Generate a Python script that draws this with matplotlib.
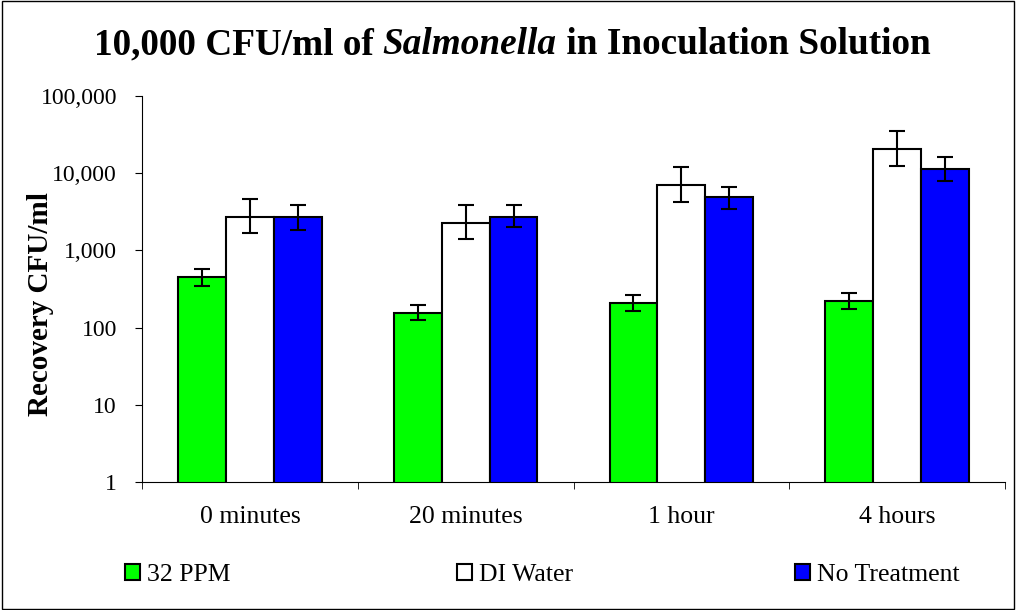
import matplotlib.pyplot as plt
from matplotlib.patches import Rectangle
from matplotlib.ticker import FuncFormatter, FixedLocator, NullLocator
import numpy as np

plt.rcParams['font.family'] = ['Liberation Serif', 'DejaVu Serif']

categories = ['0 minutes', '20 minutes', '1 hour', '4 hours']
series = ['32 PPM', 'DI Water', 'No Treatment']
colors = ['#00ff00', '#ffffff', '#0000ff']

# bar heights (CFU/ml)
ppm32 = [449, 153, 206, 219]
di_water = [2685, 2245, 6970, 20400]
no_treat = [2685, 2685, 4875, 11230]

# error bar ends (low, high)
ppm32_lo = [349, 127, 163, 173]
ppm32_hi = [574, 194, 264, 281]
di_lo = [1662, 1393, 4275, 12500]
di_hi = [4630, 3840, 12030, 34900]
nt_lo = [1854, 1990, 3405, 7850]
nt_hi = [3840, 3840, 6560, 16220]

values = [ppm32, di_water, no_treat]
lows = [ppm32_lo, di_lo, nt_lo]
highs = [ppm32_hi, di_hi, nt_hi]

W, H = 1016, 610
fig = plt.figure(figsize=(W / 100, H / 100), dpi=100)
ax = fig.add_axes([142 / W, 1 - 482 / H, (1005 - 142) / W, (482 - 96) / H])

x = np.arange(len(categories))
w = 0.222
handles = []
for i in range(3):
    v = np.array(values[i])
    yerr = [v - np.array(lows[i]), np.array(highs[i]) - v]
    b = ax.bar(x + (i - 1) * w, v, w, color=colors[i], edgecolor='black', linewidth=1.5,
               label=series[i], zorder=2)
    handles.append(b)
    ax.errorbar(x + (i - 1) * w, v, yerr=yerr, fmt='none', ecolor='black',
                elinewidth=1.5, capsize=5.5, capthick=1.5, zorder=3)

ax.set_yscale('log')
ax.set_ylim(1, 100000)
ax.set_xlim(-0.5, 3.5)
ax.yaxis.set_major_locator(FixedLocator([1, 10, 100, 1000, 10000, 100000]))
ax.yaxis.set_minor_locator(NullLocator())
ax.yaxis.set_major_formatter(FuncFormatter(lambda v, p: '{:,.0f}'.format(v)))
ax.set_xticks(x)
ax.set_xticklabels(categories, fontsize=18.5)
ax.set_xticks(np.arange(-0.5, 4.0, 1.0), minor=True)
ax.tick_params(axis='x', which='major', length=0, pad=17)
ax.tick_params(axis='x', which='minor', length=5, direction='out')
ax.tick_params(axis='y', labelsize=17, length=5, direction='out', pad=13)
ax.spines['top'].set_visible(False)
ax.spines['right'].set_visible(False)
ax.set_ylabel('Recovery CFU/ml', fontsize=21, fontweight='bold')
ax.yaxis.set_label_coords((54 - 142) / 863, 0.46)

# title with italic genus name
renderer = fig.canvas.get_renderer()
parts = [('10,000 CFU/ml of ', 'normal'), ('Salmonella', 'italic'),
         (' in Inoculation Solution', 'normal')]
texts = []
widths = []
for s, st in parts:
    t = fig.text(0, 1 - 54 / H, s, fontsize=26.8, fontweight='bold', style=st,
                 ha='left', va='baseline')
    texts.append(t)
    widths.append(t.get_window_extent(renderer).width)
xpos = 512 - sum(widths) / 2
for t, wd in zip(texts, widths):
    t.set_x(xpos / W)
    xpos += wd

# legend entries spread across the bottom
for h, lab, lx in zip(handles, series, [125, 457, 795]):
    fig.legend([h], [lab], loc='center left', bbox_to_anchor=(lx / W, 1 - 575 / H),
               frameon=False, fontsize=18.5, handlelength=0.6, handleheight=0.6,
               handletextpad=0.27, borderpad=0, borderaxespad=0)

fig.patches.append(Rectangle((0.002, 0.002), 0.996, 0.996, transform=fig.transFigure,
                             fill=False, edgecolor='black', linewidth=1))

fig.savefig('out.png', dpi=100)
